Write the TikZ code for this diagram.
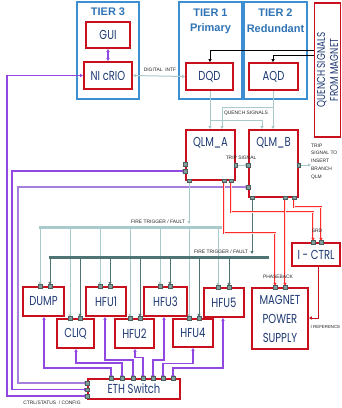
\documentclass[tikz,border=0pt]{standalone}
\usepackage{fontspec}
\setmainfont{Liberation Sans}
\newfontfamily\boxfont[FakeStretch=0.77]{Poppins}
\usetikzlibrary{arrows.meta}
\definecolor{tblue}{HTML}{3D8FD1}
\definecolor{ttext}{HTML}{2F74B5}
\definecolor{rborder}{HTML}{C8101E}
\definecolor{navy}{HTML}{1F3A73}
\definecolor{lteal}{HTML}{A8CACA}
\definecolor{dteal}{HTML}{4E7574}
\definecolor{purp}{HTML}{9048E0}
\definecolor{purl}{HTML}{A77EDB}
\definecolor{portc}{HTML}{7F9E9C}
\definecolor{rline}{HTML}{FF2A2A}
\newcommand\myport[1]{\fill[portc, draw=portc!60!black, line width=0.3pt] (#1) ++(-1.7,-1.7) rectangle ++(3.4,3.4);}
\begin{document}
\begin{tikzpicture}[x=1pt,y=-1pt,
  tier/.style={draw=tblue, line width=1.2pt, inner sep=0pt},
  tiertext/.style={text=ttext, font=\bfseries\fontsize{11}{12}\selectfont, inner sep=0pt},
  rbox/.style={draw=rborder, line width=1.7pt, fill=white, inner sep=0pt, align=center, text=navy, font=\boxfont\fontsize{13}{19}\selectfont},
  btext/.style={text=navy, font=\boxfont\fontsize{13}{14}\selectfont, inner sep=0pt},
  lbl/.style={text=black!85, font=\fontsize{4.9}{7.8}\selectfont, inner sep=0pt},
  arr/.style={-{Triangle[length=3pt,width=3pt]}},
  arrb/.style={{Triangle[length=3pt,width=3pt]}-{Triangle[length=3pt,width=3pt]}},
  pl/.style={draw=purp, line width=1.1pt},
  lt/.style={draw=lteal, line width=1pt},
  dt/.style={draw=dteal, line width=1pt},
  rl/.style={draw=rline, line width=0.45pt, double=red!12, double distance=0.9pt},
  drl/.style={draw=rborder, line width=0.9pt},
  bk/.style={draw=black, line width=0.9pt}
]
\useasboundingbox (0,0) rectangle (341,408);

% tier boxes
\node[tier, minimum width=62pt, minimum height=97pt] (t3) at (108,50.5) {};
\node[tier, minimum width=63pt, minimum height=97pt] (t1) at (210.5,50.5) {};
\node[tier, minimum width=63pt, minimum height=97pt] (t2) at (275.5,50.5) {};
\node[tiertext] (t3a) at (108,12) {TIER 3};
\node[tiertext] (t1a) at (210.5,13) {TIER 1};
\node[tiertext] (t1b) at (210.5,29) {Primary};
\node[tiertext] (t2a) at (275.5,13) {TIER 2};
\node[tiertext] (t2b) at (275.5,29) {Redundant};

% boxes
\node[rbox, minimum width=44pt, minimum height=26pt] (gui) at (108,35) {GUI};
\node[rbox, minimum width=48pt, minimum height=27pt] (ni) at (108,75.5) {NI cRIO};
\node[rbox, minimum width=47pt, minimum height=27pt] (dqd) at (209.5,76.5) {DQD};
\node[rbox, minimum width=49pt, minimum height=27pt] (aqd) at (273.5,76.5) {AQD};
\node[rbox, minimum width=26pt, minimum height=134pt] (qs) at (327.5,70) {};
\node[btext, rotate=90, align=center, font=\boxfont\fontsize{11.5}{13}\selectfont] (qst) at (qs.center) {QUENCH SIGNALS\\FROM MAGNET};
\node[rbox, minimum width=49pt, minimum height=50pt] (qlma) at (210.5,155) {};
\node[btext] (qlmat) at (210.5,143) {QLM\_A};
\node[rbox, minimum width=49pt, minimum height=67pt] (qlmb) at (273.5,163.5) {};
\node[btext] (qlmbt) at (273.5,143) {QLM\_B};
\node[rbox, minimum width=48pt, minimum height=23pt] (ictrl) at (316,254.5) {I - CTRL};
\node[rbox, minimum width=56pt, minimum height=61pt] (mps) at (280,318.5) {MAGNET\\POWER\\SUPPLY};
\node[rbox, minimum width=41pt, minimum height=29pt] (dump) at (43.5,301.5) {DUMP};
\node[rbox, minimum width=40pt, minimum height=29pt] (hfu1) at (106,301.5) {HFU1};
\node[rbox, minimum width=43pt, minimum height=29pt] (hfu3) at (165.5,301.5) {HFU3};
\node[rbox, minimum width=40pt, minimum height=29pt] (hfu5) at (224,302.5) {HFU5};
\node[rbox, minimum width=37pt, minimum height=29pt] (cliq) at (75.5,333.5) {CLIQ};
\node[rbox, minimum width=39pt, minimum height=29pt] (hfu2) at (134.5,333.5) {HFU2};
\node[rbox, minimum width=40pt, minimum height=28pt] (hfu4) at (193,333) {HFU4};
\node[rbox, minimum width=92pt, minimum height=20pt] (eth) at (134,389) {ETH Switch};

% GUI - NI
\draw[pl,arrb] (gui.south) -- (ni.north);
% digital intf
\draw[lt,arrb] (ni.east) -- (dqd.west);
\node[lbl] (ldi) at (160,70) {DIGITAL\ \ INTF};
% quench signals from magnet
\draw[bk,arr] (qs.west |- 0,50) -- (210,50) -- (210,0 |- dqd.north);
\draw[bk,arr] (qs.west |- 0,55) -- (273,55) -- (273,0 |- aqd.north);
% quench signals to QLMs
\draw[lt,arr] (210,0 |- dqd.south) -- (210,0 |- qlma.north);
\draw[lt,arr] (273,0 |- aqd.south) -- (273,0 |- qlmb.north);
\draw[lt,arr] (273,107) -- (222,107) -- (222,0 |- qlma.north);
\draw[lt,arr] (210,120) -- (262,120) -- (262,0 |- qlmb.north);
\node[lbl] (lqs) at (246,113.5) {QUENCH SIGNALS};
% trip
\draw[lt,arr] (qlma.east |- 0,165) -- (qlmb.west |- 0,165);
\node[lbl] (ltrip) at (241,157.5) {TRIP SIGNAL};
\coordinate (tripout) at (311,165);
\draw[lt,arr] (qlmb.east |- 0,165) -- (tripout);
\node[lbl, anchor=north west, align=left] (ltrip2) at (311,143.5) {TRIP\\SIGNAL TO\\INSERT\\BRANCH\\QLM};

% purple control lines
\draw[pl,arrb] (ni.west) -- (7,0 |- ni.west) -- (7,396) -- (eth.west |- 0,396);
\draw[pl,arrb] (qlma.west |- 0,171) -- (12,171) -- (12,389.5) -- (eth.west |- 0,389.5);
\draw[pl,arrb, draw=purl] (qlmb.west |- 0,187) -- (18,187) -- (18,383) -- (eth.west |- 0,383);
\node[lbl] (lctrl) at (52,402.5) {CTRL/STATUS\ \ / CONFIG};

\draw[pl,arrb] (44,0 |- dump.south) |- (111,368) -- (111,0 |- eth.north);
\draw[pl,arrb] (76,0 |- cliq.south) |- (122,363) -- (122,0 |- eth.north);
\draw[pl,arrb] (105,0 |- hfu1.south) |- (133,360) -- (133,0 |- eth.north);
\draw[pl,arrb] (135,0 |- hfu2.south) |- (143,357.5) -- (143,0 |- eth.north);
\draw[pl,arrb] (164,0 |- hfu3.south) |- (153,360) -- (153,0 |- eth.north);
\draw[pl,arrb] (193,0 |- hfu4.south) |- (163,363.5) -- (163,0 |- eth.north);
\draw[pl,arrb] (223,0 |- hfu5.south) |- (173,368) -- (173,0 |- eth.north);

% fire trigger bus 1 (light)
\coordinate (b1w) at (38.5,227);
\coordinate (b1e) at (222,227);
\foreach \x/\b in {40/dump,70/cliq,100/hfu1,130/hfu2,160/hfu3,189/hfu4,218/hfu5}
  \draw[lt,arr,shorten >=1.2pt] (\x,0 |- b1w) -- (\x,0 |- \b.north);
\draw[lteal, line width=3pt] (b1w) -- (b1e);
\draw[lt,arr] (189,0 |- qlma.south) -- (189,224);
\node[lbl] (lf1) at (158,222) {FIRE TRIGGER / FAULT};

% fire trigger bus 2 (dark)
\coordinate (b2w) at (48.5,257);
\coordinate (b2e) at (268.5,257);
\foreach \x/\b in {50/dump,80/cliq,110/hfu1,140/hfu2,170/hfu3,199/hfu4,229/hfu5}
  \draw[dt,arr,shorten >=1.2pt] (\x,0 |- b2w) -- (\x,0 |- \b.north);
\draw[dteal, line width=3pt] (b2w) -- (b2e);
\draw[dt,arr] (252,0 |- qlmb.south) -- (252,254);
\node[lbl] (lf2) at (221,252) {FIRE TRIGGER / FAULT};

% red lines
\draw[rl,arr,shorten >=1.2pt] (224,0 |- qlma.south) |- (275,233) -- (275,0 |- mps.north);
\draw[rl,arr,shorten >=1.2pt] (231,0 |- qlma.south) |- (313,212) -- (313,0 |- ictrl.north);
\draw[rl,arr,shorten >=1.2pt] (285,0 |- qlmb.south) -- (285,0 |- mps.north);
\draw[rl,arr,shorten >=1.2pt] (294,0 |- qlmb.south) |- (321,207) -- (321,0 |- ictrl.north);
\node[lbl] (lsrd) at (317,231) {SRD};
\node[lbl] (lph) at (278,277) {PHASEBACK};
\draw[drl,arr] (318,0 |- ictrl.south) |- (mps.east |- 0,318);
\node[lbl, anchor=west, font=\fontsize{4.4}{6}\selectfont] (lir) at (310.5,327) {I REFERENCE};

% ports
\foreach \p in {{qlma.west |- 0,164}, {qlma.west |- 0,171}, {qlma.east |- 0,165},
  {189,0 |- qlma.south}, {224,0 |- qlma.south}, {231,0 |- qlma.south},
  {qlmb.west |- 0,165}, {qlmb.west |- 0,187}, {qlmb.east |- 0,165},
  {252,0 |- qlmb.south}, {285,0 |- qlmb.south}, {294,0 |- qlmb.south},
  {313,0 |- ictrl.north}, {321,0 |- ictrl.north}, {275,0 |- mps.north}, {285,0 |- mps.north},
  {40,0 |- dump.north}, {50,0 |- dump.north}, {70,0 |- cliq.north}, {80,0 |- cliq.north},
  {100,0 |- hfu1.north}, {110,0 |- hfu1.north}, {130,0 |- hfu2.north}, {140,0 |- hfu2.north},
  {160,0 |- hfu3.north}, {170,0 |- hfu3.north}, {189,0 |- hfu4.north}, {199,0 |- hfu4.north},
  {218,0 |- hfu5.north}, {229,0 |- hfu5.north},
  {111,0 |- eth.north}, {122,0 |- eth.north}, {133,0 |- eth.north}, {143,0 |- eth.north},
  {153,0 |- eth.north}, {163,0 |- eth.north}, {173,0 |- eth.north},
  {eth.west |- 0,383}, {eth.west |- 0,389.5}, {eth.west |- 0,396}}
  {\myport{\p}}
\end{tikzpicture}
\end{document}
